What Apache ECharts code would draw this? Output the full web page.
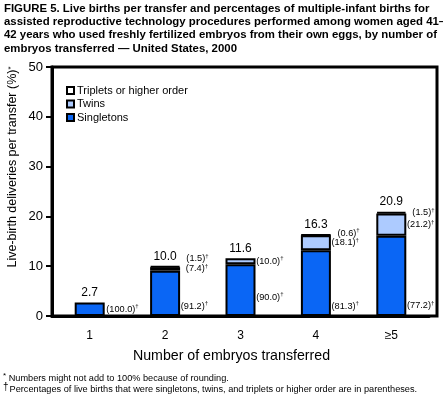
<!DOCTYPE html>
<html>
<head>
<meta charset="utf-8">
<script src="https://cdn.jsdelivr.net/npm/echarts@6/dist/echarts.min.js"></script>
<style>
  html, body { margin: 0; padding: 0; background: #fff; }
  #main { width: 443px; height: 399px; }
</style>
</head>
<body>
<div id="main"></div>
<script>
// number of embryos transferred
var categories = ["1", "2", "3", "4", "\u22655"];
// live-birth deliveries per transfer (%)
var totals = [2.7, 10.0, 11.6, 16.3, 20.9];
// share of each bar
var singletons = [2.7, 9.1, 10.4, 13.2, 16.1];
var twins = [0, 0.7, 1.2, 3.0, 4.5];
var triplets = [0, 0.2, 0, 0.1, 0.3];
// percentages printed in parentheses
var singletonPct = ["100.0", "91.2", "90.0", "81.3", "77.2"];
var twinPct = [null, "7.4", "10.0", "18.1", "21.2"];
var tripletPct = [null, "1.5", null, "0.6", "1.5"];

var FONT = "Liberation Sans";
var border = { borderColor: "#000", borderWidth: 2 };

var pctRich = {
  p: { fontFamily: FONT, fontSize: 9.2, color: "#000" },
  s: { fontFamily: FONT, fontSize: 6, color: "#000", padding: [0, 0, 5, 0] }
};

// small vertical nudges so the bracketed labels do not collide
var singleNudge = [0, 13, 7, 23, 30];
var tripletNudge = [0, -8, 0, -2, 0];

function barData(values, pcts, nudge) {
  return values.map(function (v, i) {
    var item = { value: v === 0 ? "-" : v };
    if (pcts[i]) {
      item.label = {
        show: true,
        position: "right",
        distance: 3,
        align: "right",
        offset: [pcts[i].length > 4 ? 31 : 25, nudge ? nudge[i] : 0],
        formatter: "{p|(" + pcts[i] + ")}{s|\u2020}",
        rich: pctRich
      };
    }
    return item;
  });
}

var chart = echarts.init(document.getElementById("main"));
chart.setOption({
  animation: false,
  title: {
    text: "FIGURE 5. Live births per transfer and percentages of multiple-infant births for\n" +
      "assisted reproductive technology procedures performed among women aged 41\u2013\n" +
      "42 years who used freshly fertilized embryos from their own eggs, by number of\n" +
      "embryos transferred \u2014 United States, 2000",
    left: 4,
    top: 2,
    padding: 0,
    textStyle: { fontFamily: FONT, fontSize: 11.4, fontWeight: "bold", lineHeight: 13.3, color: "#000" }
  },
  legend: {
    data: ["Triplets or higher order", "Twins", "Singletons"],
    orient: "vertical",
    left: 61,
    top: 80,
    itemWidth: 7,
    itemHeight: 7,
    itemGap: 2.5,
    icon: "rect",
    itemStyle: { borderColor: "#000", borderWidth: 2 },
    textStyle: { fontFamily: FONT, fontSize: 11, color: "#000", padding: [0, 0, 0, -2] }
  },
  grid: [
    // plotting area: bars sit on a slightly narrower band than the frame
    { left: 52, right: 14, top: 67, bottom: 83 },
    // outer frame
    { left: 52, right: 6, top: 67, bottom: 83, show: true, borderColor: "#000", borderWidth: 3 }
  ],
  xAxis: [
    {
      type: "category",
      data: categories,
      axisLine: { lineStyle: { color: "#000", width: 3 } },
      axisTick: { alignWithLabel: true, length: 6, lineStyle: { color: "#000", width: 2 } },
      axisLabel: { fontFamily: FONT, fontSize: 12, color: "#000", margin: 14 },
      name: "Number of embryos transferred",
      nameLocation: "middle",
      nameGap: 33,
      nameTextStyle: { fontFamily: FONT, fontSize: 14.2, color: "#000", padding: [0, 18, 0, 0] }
    },
    { gridIndex: 1, type: "value", show: false }
  ],
  yAxis: [
    {
      type: "value",
      min: 0, max: 50, interval: 10,
      splitLine: { show: false },
      axisLine: { show: true, lineStyle: { color: "#000", width: 3 } },
      axisTick: { show: true, length: 6, lineStyle: { color: "#000", width: 2 } },
      axisLabel: { fontFamily: FONT, fontSize: 13, color: "#000", margin: 9 }
    },
    { gridIndex: 1, type: "value", show: false }
  ],
  graphic: [
    {
      type: "text", left: 3, top: 372,
      style: {
        text: "{s|*} Numbers might not add to 100% because of rounding.",
        rich: {
          s: { fontFamily: FONT, fontSize: 8, padding: [0, 0, 4, 0] }
        },
        fontFamily: FONT, fontSize: 9.2, fill: "#000"
      }
    },
    {
      type: "text", left: 3, top: 382,
      style: {
        text: "{s|\u2020}Percentages of live births that were singletons, twins, and triplets or higher order are in parentheses.",
        rich: {
          s: { fontFamily: FONT, fontSize: 10, padding: [0, 1, 4, 0] }
        },
        fontFamily: FONT, fontSize: 9.2, fill: "#000"
      }
    },
    {
      type: "text", x: 13, y: 167, rotation: Math.PI / 2,
      style: {
        text: "Live-birth deliveries per transfer (%){s|*}",
        rich: { s: { fontFamily: FONT, fontSize: 8, padding: [0, 0, 5, 0] } },
        fontFamily: FONT, fontSize: 12.5, fill: "#000",
        align: "center", verticalAlign: "middle"
      }
    }
  ],
  series: [
    {
      name: "Singletons", type: "bar", stack: "b", barWidth: 30,
      itemStyle: Object.assign({ color: "#0A66F5" }, border),
      data: barData(singletons, singletonPct, singleNudge)
    },
    {
      name: "Twins", type: "bar", stack: "b",
      itemStyle: Object.assign({ color: "#ADCBFF" }, border),
      data: barData(twins, twinPct)
    },
    {
      name: "Triplets or higher order", type: "bar", stack: "b",
      itemStyle: Object.assign({ color: "#fff" }, border),
      data: barData(triplets, tripletPct, tripletNudge)
    },
    {
      name: "total", type: "bar", stack: "b",
      itemStyle: { color: "transparent", borderWidth: 0 },
      label: {
        show: true, position: "top", distance: 4,
        fontFamily: FONT, fontSize: 12, color: "#000",
        formatter: function (p) { return totals[p.dataIndex].toFixed(1); }
      },
      data: totals.map(function () { return 0; })
    }
  ]
});
</script>
</body>
</html>
